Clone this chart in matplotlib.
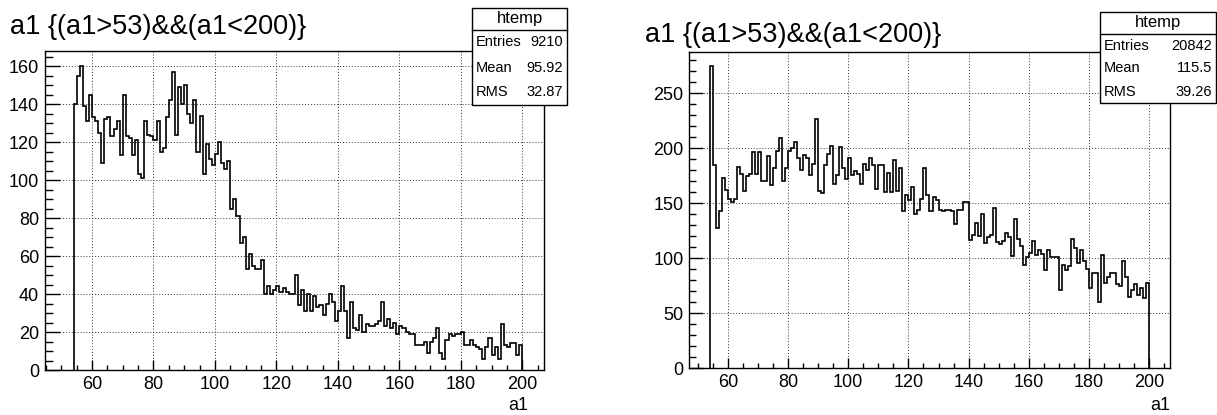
import numpy as np
import matplotlib
matplotlib.use("Agg")
import matplotlib.pyplot as plt
from matplotlib.patches import Rectangle
from matplotlib.ticker import MultipleLocator

plt.rcParams["font.family"] = ["Liberation Sans", "DejaVu Sans"]

# ------------------------------------------------
# Data: bin contents, 1-unit bins from 54 to 200
# ------------------------------------------------

bin_edges = np.arange(54, 201)

left_counts = [
    140, 155, 160, 139, 131, 145, 133, 131, 125, 109,
    132, 133, 123, 127, 131, 113, 145, 123, 122, 113,
    121, 103, 101, 131, 124, 123, 121, 131, 115, 117,
    133, 142, 157, 124, 149, 140, 150, 135, 130, 142,
    115, 134, 103, 119, 111, 108, 114, 120, 109, 106,
    110, 85, 90, 81, 67, 70, 53, 61, 55, 53,
    53, 58, 40, 44, 40, 42, 44, 41, 43, 41,
    40, 40, 50, 34, 42, 31, 40, 31, 39, 33,
    34, 29, 35, 40, 36, 26, 31, 44, 31, 17,
    36, 22, 21, 29, 20, 24, 23, 23, 24, 26,
    36, 23, 27, 22, 25, 19, 23, 22, 20, 19,
    19, 13, 13, 13, 15, 9, 15, 17, 22, 9,
    6, 16, 19, 18, 19, 19, 20, 13, 13, 16,
    13, 12, 11, 6, 12, 17, 8, 12, 6, 24,
    13, 12, 14, 14, 8, 13,
]

right_counts = [
    275, 185, 128, 143, 173, 162, 154, 151, 154, 183,
    177, 161, 175, 177, 197, 177, 197, 170, 170, 193,
    167, 182, 198, 209, 170, 182, 198, 200, 206, 191,
    180, 194, 191, 176, 186, 227, 161, 159, 185, 195,
    202, 168, 176, 201, 182, 172, 191, 176, 179, 177,
    168, 186, 180, 191, 185, 163, 185, 185, 160, 178,
    160, 189, 161, 182, 143, 158, 153, 165, 140, 144,
    154, 182, 158, 143, 156, 153, 144, 143, 144, 144,
    143, 131, 144, 144, 151, 151, 117, 121, 132, 120,
    140, 114, 119, 121, 146, 115, 113, 116, 123, 119,
    102, 136, 118, 111, 94, 101, 105, 116, 103, 108,
    104, 89, 108, 101, 101, 101, 71, 94, 89, 93,
    118, 109, 96, 108, 98, 90, 73, 87, 87, 60,
    103, 78, 83, 87, 87, 77, 75, 98, 83, 65,
    71, 77, 67, 73, 64, 78,
]

title_text = "a1 {(a1>53)&&(a1<200)}"
stat_names = ["Entries", "Mean", "RMS"]
left_stats = ["9210", "95.92", "32.87"]
right_stats = ["20842", "115.5", "39.26"]

# ------------------------------------------------
# Figure in pixel units
# ------------------------------------------------

W, H = 1217, 415
fig = plt.figure(figsize=(W / 100, H / 100), dpi=100)


def px_box(x0, y0, x1, y1):
    return [x0 / W, 1 - y1 / H, (x1 - x0) / W, (y1 - y0) / H]


def draw_hist(ax, counts, xlim, ylim, ymajor, yminor, ytick_len):
    ax.stairs(counts, bin_edges, baseline=0, color="black", linewidth=1.2, zorder=3)
    ax.set_xlim(*xlim)
    ax.set_ylim(*ylim)
    ax.xaxis.set_major_locator(MultipleLocator(20))
    ax.xaxis.set_minor_locator(MultipleLocator(5))
    ax.yaxis.set_major_locator(MultipleLocator(ymajor))
    ax.yaxis.set_minor_locator(MultipleLocator(yminor))
    ax.tick_params(which="both", direction="in", top=False, right=False,
                   labelsize=13, width=1, pad=4)
    ax.tick_params(axis="x", which="major", length=6.9)
    ax.tick_params(axis="x", which="minor", length=3.5)
    ax.tick_params(axis="y", which="major", length=ytick_len)
    ax.tick_params(axis="y", which="minor", length=ytick_len / 2)
    ax.grid(True, which="major", linestyle=(0, (1, 2)), color="#333333", linewidth=0.7)
    for s in ax.spines.values():
        s.set_linewidth(1.0)


def draw_stats(x0, y0, x1, y1, values):
    sep = y0 + 22
    fig.patches.append(Rectangle((x0 / W, 1 - y1 / H), (x1 - x0) / W, (y1 - y0) / H,
                                 transform=fig.transFigure, facecolor="white",
                                 edgecolor="black", linewidth=1.0, zorder=5))
    fig.add_artist(plt.Line2D([x0 / W, x1 / W], [1 - sep / H] * 2,
                              color="black", linewidth=1.0, zorder=6))
    fig.text((x0 + x1) / 2 / W, 1 - (y0 + 11) / H, "htemp", ha="center",
             va="center", fontsize=12, zorder=7)
    row_h = (y1 - sep) / 3
    for i, (name, val) in enumerate(zip(stat_names, values)):
        yc = sep + row_h * (i + 0.5)
        fig.text((x0 + 4) / W, 1 - yc / H, name, ha="left", va="center",
                 fontsize=10.5, zorder=7)
        fig.text((x1 - 4) / W, 1 - yc / H, val, ha="right", va="center",
                 fontsize=10.5, zorder=7)


# ------------------------------------------------
# Left pad
# ------------------------------------------------

ax1 = fig.add_axes(px_box(44.5, 51, 544, 370))
draw_hist(ax1, left_counts, (44.55, 207.06), (0, 168), 20, 5, 10.8)
fig.text(10 / W, 1 - 27 / H, title_text, ha="left", va="center", fontsize=19.5)
fig.text(528 / W, 1 - 405 / H, "a1", ha="right", va="center", fontsize=13)
draw_stats(472, 8, 567, 105, left_stats)

# ------------------------------------------------
# Right pad
# ------------------------------------------------

ax2 = fig.add_axes(px_box(689.3, 52.3, 1170.3, 368.3))
draw_hist(ax2, right_counts, (47.2, 207.0), (0, 287.3), 50, 10, 10.4)
fig.text(645 / W, 1 - 35 / H, title_text, ha="left", va="center", fontsize=19.5)
fig.text(1170 / W, 1 - 405 / H, "a1", ha="right", va="center", fontsize=13)
draw_stats(1100, 12, 1216, 103, right_stats)

fig.savefig("out.png", dpi=100)
